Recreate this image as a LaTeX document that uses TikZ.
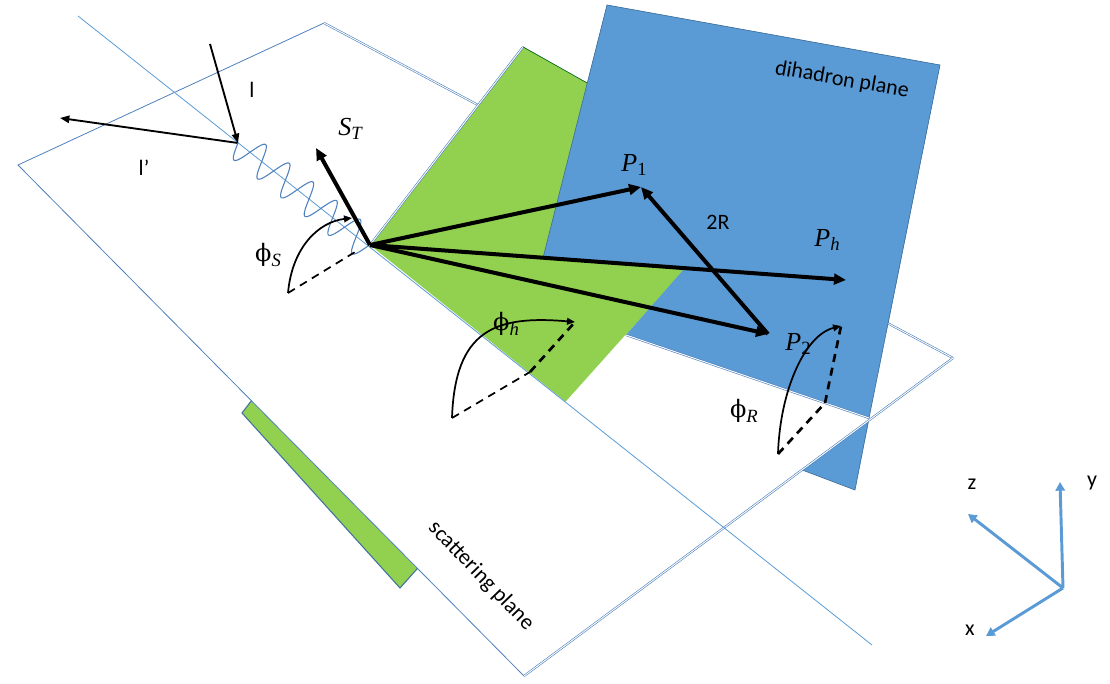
\documentclass[tikz,border=0pt]{standalone}
\usepackage{fontspec}
\setmainfont{Carlito}
\newfontfamily\mfont{Liberation Serif}
\newfontfamily\phifont{DejaVu Serif}
\usetikzlibrary{arrows.meta}
\definecolor{planeblue}{HTML}{5B9BD5}
\definecolor{planegreen}{HTML}{92D050}
\definecolor{edgeblue}{HTML}{4F81BD}
\definecolor{outblue}{HTML}{41719C}
\definecolor{axisblue}{HTML}{5B9BD5}
\newcommand\mvec[2]{{\mfont\itshape #1}\raisebox{-0.4ex}{\fontsize{14}{16}\selectfont\mfont #2}}
\newcommand\mphi[1]{{\phifont\fontsize{18}{20}\selectfont ϕ}\raisebox{-0.4ex}{\fontsize{14}{16}\selectfont\mfont\itshape #1}}
\begin{document}
\begin{tikzpicture}[x=0.75pt,y=-0.75pt,
  edge/.style={draw=edgeblue, line width=0.6pt},
  dbl/.style={draw=edgeblue, double=white, double distance=0.7pt, line width=0.45pt},
  thinarrow/.style={black, line width=1.4pt, -{Triangle[length=7pt,width=5.5pt]}},
  vec/.style={black, line width=3pt, -{Triangle[length=9pt,width=8pt]}},
  anglearc/.style={black, line width=1.3pt, -{Triangle[length=6pt,width=5pt]}},
  dashthin/.style={black, line width=1.3pt, dash pattern=on 6pt off 4.5pt},
  dashthick/.style={black, line width=2pt, dash pattern=on 6pt off 4.5pt},
  axisarrow/.style={axisblue, line width=2.2pt, -{Triangle[length=6.5pt,width=7pt]}},
  lbl/.style={font=\fontsize{16.5}{19}\selectfont, inner sep=0pt},
  mlbl/.style={font=\fontsize{19.5}{22}\selectfont\mfont, inner sep=0pt}]
\useasboundingbox (0,0) rectangle (1110,684);
% key points
\coordinate (O) at (370,245);
% scattering plane
\coordinate (L) at (18,165);
\coordinate (T) at (324,23);
\coordinate (R) at (953,358);
\coordinate (B) at (524,676);
% green plane
\coordinate (GTL) at (523,47);
\coordinate (GTR) at (762,183);
\coordinate (GBR) at (400,588);
\coordinate (GBL) at (242,413);
\coordinate (GP) at (566,402);
% blue plane
\coordinate (BTL) at (607,5);
\coordinate (BTR) at (940,65);
\coordinate (BBR) at (855,490);
\coordinate (BBL) at (517,362);
\coordinate (BQ) at (869,418);
\coordinate (BW) at (626,335);
\coordinate (BG) at (685,268);
\coordinate (BPh) at (543,258);
\coordinate (GB) at (589,84);
% photon axis
\coordinate (PA1) at (78,16);
\coordinate (PA2) at (872,645);

% 1 blue plane (full)
\fill[planeblue] (BTL) -- (BTR) -- (BBR) -- (BBL) -- cycle;
\draw[outblue, line width=0.5pt] (BQ) -- (BBR) -- (BBL);
% 2 green plane (full)
\fill[planegreen, draw=outblue, line width=0.8pt] (GTL) -- (GTR) -- (GBR) -- (GBL) -- cycle;
% 3 scattering plane
\fill[white] (L) -- (T) -- (R) -- (B) -- cycle;
\draw[edge] (T) -- (L) -- (B);
\draw[dbl] (T) -- (R);
\draw[dbl] (R) -- (B);
% 4 green front part
\fill[planegreen] (O) -- (GTL) -- (GTR) -- (GP) -- cycle;
\draw[dbl] (O) -- (GTL);
\draw[green!45!black, line width=0.4pt] (GTL) -- (GB);
% 5 blue front part
\fill[planeblue] (BTL) -- (BTR) -- (BQ) -- (BW) -- (BG) -- (BPh) -- cycle;
\draw[outblue, line width=0.5pt] (BPh) -- (BTL) -- (BTR) -- (BQ);
\draw[draw=white, line width=0.6pt] (GP) -- (BW);
\draw[dbl] (BW) -- (BQ);
% photon axis
\draw[axisblue, line width=0.6pt] (PA1) -- (PA2);

% leptons and photon
\coordinate (Lin) at (210,44);
\coordinate (V) at (238,143);
\coordinate (Lout) at (60,118);
\draw[thinarrow] (Lin) -- (V);
\draw[thinarrow] (V) -- (Lout);
\draw[edgeblue, line width=0.8pt] plot[domain=0:166, samples=240, smooth]
  ({238+0.783*\x-9.9*sin(11.92*\x)}, {143+0.62*\x+12.5*sin(11.92*\x)});

% vectors
\coordinate (ST) at (316,148);
\coordinate (P1) at (641,187);
\coordinate (P2) at (768,334);
\coordinate (Ph) at (846,280);
\draw[vec] (O) -- (ST);
\draw[vec] (O) -- (P1);
\draw[vec] (O) -- (Ph);
\draw[vec] (O) -- (P2);
\draw[vec] (P2) -- (P1);

% angle phi_S
\coordinate (S1) at (288,293);
\coordinate (S2) at (355,252);
\coordinate (S3) at (352,218);
\draw[dashthin] (S1) -- (S2);
\draw[anglearc] (S1) .. controls (292,248) and (318,222) .. (S3);
% angle phi_h
\coordinate (H1) at (452,418);
\coordinate (H2) at (530,372);
\coordinate (H3) at (575,322);
\draw[dashthin] (H1) -- (H2);
\draw[dashthick] (H2) -- (H3);
\draw[anglearc] (H1) .. controls (455,330) and (495,315) .. (H3);
% angle phi_R
\coordinate (R1) at (778,454);
\coordinate (R2) at (825,403);
\coordinate (R3) at (841,326);
\draw[dashthick] (R1) -- (R2);
\draw[dashthick] (R2) -- (R3);
\draw[anglearc] (R1) .. controls (780,390) and (805,335) .. (R3);

% labels
\node[lbl] (ll) at (252,90) {l};
\node[lbl] (llp) at (144,168) {l’};
\node[mlbl] (lST) at (350,129) {\mvec{S}{\itshape T}};
\node[mlbl] (lphiS) at (268,255) {\mphi{S}};
\node[mlbl] (lphih) at (506,324) {\mphi{h}};
\node[mlbl] (lphiR) at (744,411) {\mphi{R}};
\node[mlbl] (lP1) at (634,165) {\mvec{P}{1}};
\node[mlbl] (lP2) at (798,344) {\mvec{P}{2}};
\node[mlbl] (lPh) at (827,240) {\mvec{P}{\itshape h}};
\node[lbl] (l2R) at (718,222) {2R};
\node[lbl, rotate=-10] (ldih) at (842,80) {dihadron plane};
\node[lbl, rotate=-46] (lscat) at (481,576) {scattering plane};

% axes
\coordinate (A0) at (1063,588);
\coordinate (Ay) at (1060,482);
\coordinate (Az) at (968,514);
\coordinate (Ax) at (986,636);
\draw[axisarrow] (A0) -- (Ay);
\draw[axisarrow] (A0) -- (Az);
\draw[axisarrow] (A0) -- (Ax);
\node[lbl] (lz) at (972,484) {z};
\node[lbl] (ly) at (1092,483) {y};
\node[lbl] (lx) at (970,630) {x};
\end{tikzpicture}
\end{document}
